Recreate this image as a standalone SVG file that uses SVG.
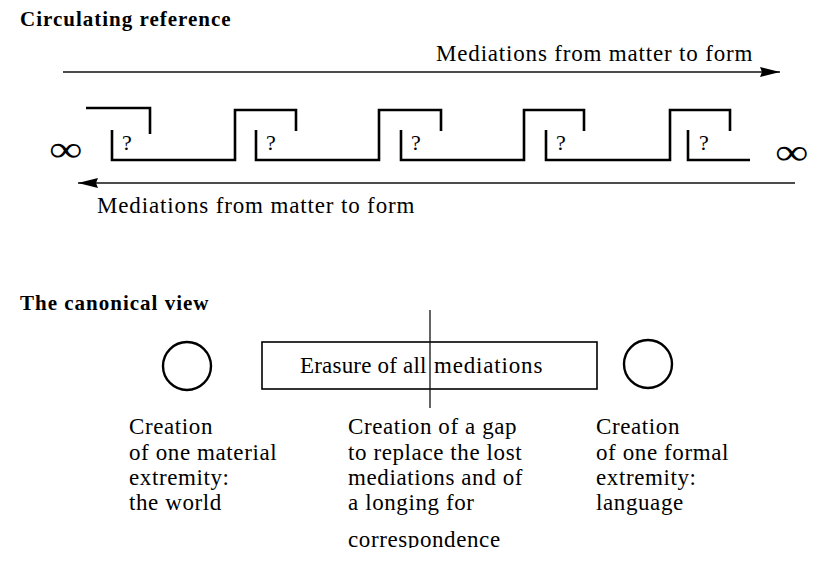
<svg xmlns="http://www.w3.org/2000/svg" width="818" height="566" viewBox="0 0 818 566">
<style>
text{font-family:"Liberation Serif","Times New Roman",serif;fill:#000}
.t{font-size:23px;letter-spacing:0.6px}
.h{font-size:21px;font-weight:bold;letter-spacing:1px}
.q{font-size:22px}
.inf{font-size:36px}
.br{fill:none;stroke:#000;stroke-width:2.6;stroke-linejoin:miter}
.ar{fill:none;stroke:#111;stroke-width:1.3}
.circ{fill:none;stroke:#000;stroke-width:2.4}
.box{fill:#fff;stroke:#000;stroke-width:1.6}
</style>
<defs>
<marker id="ah" viewBox="0 0 20 10" refX="20" refY="5" markerWidth="20" markerHeight="10" markerUnits="userSpaceOnUse" orient="auto">
<path d="M0,0 L20,5 L0,10 L2,5 Z" fill="#000"/>
</marker>
<clipPath id="cut"><rect x="0" y="0" width="818" height="548"/></clipPath>
</defs>
<g id="title-circulating"><text class="h" x="20" y="26">Circulating reference</text></g>
<g id="connectors">
<line class="ar" x1="63" y1="72" x2="780" y2="72" marker-end="url(#ah)"/>
<line class="ar" x1="795" y1="183" x2="78" y2="183" marker-end="url(#ah)"/>
</g>
<g id="label-top"><text class="t" x="436" y="61" textLength="317" lengthAdjust="spacing">Mediations from matter to form</text></g>
<g id="label-bottom"><text class="t" x="97" y="213" textLength="318" lengthAdjust="spacing">Mediations from matter to form</text></g>
<g id="inf-left"><text class="inf" transform="translate(49,161) scale(1.3,1)">∞</text></g>
<g id="inf-right"><text class="inf" transform="translate(775,164) scale(1.3,1)">∞</text></g>
<g id="chain">
<path class="br" d="M86,108 H150 V134"/>
<path class="br" d="M112,130 V160 H235 V110 H296 V131"/>
<path class="br" d="M256,130 V160 H379 V110 H441 V131"/>
<path class="br" d="M401,130 V160 H524 V110 H584 V131"/>
<path class="br" d="M546,130 V160 H670 V110 H730 V131"/>
<path class="br" d="M688,130 V160 H750"/>
</g>
<g id="marks">
<text class="q" x="122" y="150">?</text>
<text class="q" x="266" y="150">?</text>
<text class="q" x="411" y="150">?</text>
<text class="q" x="556" y="150">?</text>
<text class="q" x="699" y="150">?</text>
</g>
<g id="title-canonical"><text class="h" x="20" y="310">The canonical view</text></g>
<g id="circle-world"><circle class="circ" cx="187" cy="366" r="24"/></g>
<g id="box-erasure">
<rect class="box" x="262" y="342" width="335" height="47"/>
<text class="t" x="300" y="373" textLength="127" lengthAdjust="spacing">Erasure of all</text>
<text class="t" x="434" y="373" textLength="109" lengthAdjust="spacing">mediations</text>
</g>
<g id="vline"><line class="ar" x1="430" y1="310" x2="430" y2="408"/></g>
<g id="circle-language"><circle class="circ" cx="648" cy="364" r="24"/></g>
<g id="text-world">
<text class="t" x="129" y="434">Creation</text>
<text class="t" x="129" y="460">of one material</text>
<text class="t" x="129" y="485">extremity:</text>
<text class="t" x="129" y="510">the world</text>
</g>
<g id="text-gap">
<text class="t" x="348" y="434">Creation of a gap</text>
<text class="t" x="348" y="460">to replace the lost</text>
<text class="t" x="348" y="485">mediations and of</text>
<text class="t" x="348" y="510">a longing for</text>
<text class="t" x="348" y="547" clip-path="url(#cut)">correspondence</text>
</g>
<g id="text-language">
<text class="t" x="596" y="434">Creation</text>
<text class="t" x="596" y="460">of one formal</text>
<text class="t" x="596" y="485">extremity:</text>
<text class="t" x="596" y="510">language</text>
</g>
</svg>
